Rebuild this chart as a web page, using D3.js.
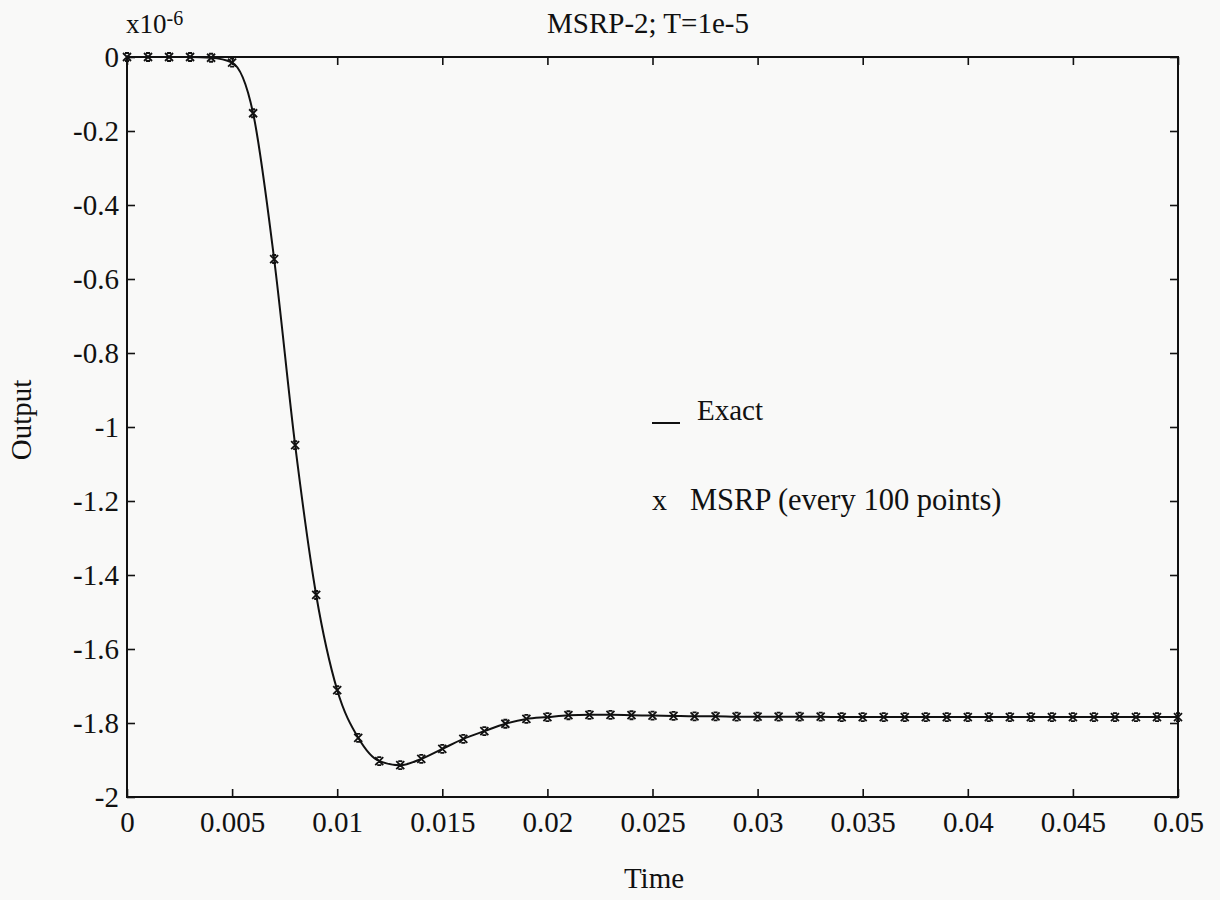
<!DOCTYPE html>
<html>
<head>
<meta charset="utf-8">
<title>MSRP-2; T=1e-5</title>
<script src="https://cdn.jsdelivr.net/npm/d3@7"></script>
<style>
  body { margin: 0; background: #f9f9f8; }
  svg { display: block; }
  text { font-family: "Liberation Serif", "Times New Roman", serif; fill: #111; }
</style>
</head>
<body>
<div id="chart"></div>
<script>
// sample times (s) - MSRP marker every 100 points
const times = [
  0, 0.001, 0.002, 0.003, 0.004, 0.005, 0.006, 0.007, 0.008, 0.009,
  0.010, 0.011, 0.012, 0.013, 0.014, 0.015, 0.016, 0.017, 0.018, 0.019,
  0.020, 0.021, 0.022, 0.023, 0.024, 0.025, 0.026, 0.027, 0.028, 0.029,
  0.030, 0.031, 0.032, 0.033, 0.034, 0.035, 0.036, 0.037, 0.038, 0.039,
  0.040, 0.041, 0.042, 0.043, 0.044, 0.045, 0.046, 0.047, 0.048, 0.049,
  0.050
];
// output in units of 1e-6
const output = [
  0, 0, 0, 0, -0.002, -0.015, -0.152, -0.546, -1.049, -1.454,
  -1.711, -1.840, -1.903, -1.914, -1.897, -1.870, -1.843, -1.822, -1.802, -1.789,
  -1.784, -1.779, -1.778, -1.778, -1.779, -1.780, -1.781, -1.782, -1.782, -1.783,
  -1.783, -1.783, -1.783, -1.783, -1.784, -1.784, -1.784, -1.784, -1.784, -1.784,
  -1.784, -1.784, -1.784, -1.784, -1.784, -1.784, -1.784, -1.784, -1.784, -1.784,
  -1.784
];
const xTicks = [0, 0.005, 0.01, 0.015, 0.02, 0.025, 0.03, 0.035, 0.04, 0.045, 0.05];
const yTicks = [0, -0.2, -0.4, -0.6, -0.8, -1, -1.2, -1.4, -1.6, -1.8, -2];
const legendLabels = ["Exact", "MSRP (every 100 points)"];

const W = 1220, H = 900;
const mLeft = 127, mRight = 1178, mTop = 57, mBottom = 797;

const svg = d3.select("#chart").append("svg")
  .attr("width", W)
  .attr("height", H);

const x = d3.scaleLinear().domain([0, 0.05]).range([mLeft, mRight]);
const y = d3.scaleLinear().domain([-2, 0]).range([mBottom, mTop]);

const fmt = d => d === 0 ? "0" : String(+d.toFixed(4));

// frame
svg.append("rect")
  .attr("x", mLeft).attr("y", mTop)
  .attr("width", mRight - mLeft).attr("height", mBottom - mTop)
  .attr("fill", "none").attr("stroke", "#111").attr("stroke-width", 2);

// inward ticks on all four sides
const tick = 8;
const tickStyle = g => g.call(g => g.select(".domain").remove())
  .call(g => g.selectAll(".tick line").attr("stroke", "#111").attr("stroke-width", 1.6));

svg.append("g")
  .attr("transform", `translate(0,${mBottom})`)
  .call(d3.axisBottom(x).tickValues(xTicks).tickSize(-tick).tickPadding(14).tickFormat(fmt))
  .call(tickStyle)
  .call(g => g.selectAll(".tick text")
    .attr("font-family", "Liberation Serif").attr("font-size", 29).attr("fill", "#111"));

svg.append("g")
  .attr("transform", `translate(0,${mTop})`)
  .call(d3.axisTop(x).tickValues(xTicks).tickSize(-tick).tickFormat(""))
  .call(tickStyle);

svg.append("g")
  .attr("transform", `translate(${mLeft},0)`)
  .call(d3.axisLeft(y).tickValues(yTicks).tickSize(-tick).tickPadding(8).tickFormat(fmt))
  .call(tickStyle)
  .call(g => g.selectAll(".tick text")
    .attr("font-family", "Liberation Serif").attr("font-size", 29).attr("fill", "#111"));

svg.append("g")
  .attr("transform", `translate(${mRight},0)`)
  .call(d3.axisRight(y).tickValues(yTicks).tickSize(-tick).tickFormat(""))
  .call(tickStyle);

// exact response
const pts = times.map((t, i) => [t, output[i]]);
svg.append("path")
  .datum(pts)
  .attr("fill", "none")
  .attr("stroke", "#111")
  .attr("stroke-width", 2)
  .attr("d", d3.line().x(d => x(d[0])).y(d => y(d[1])).curve(d3.curveMonotoneX));

// MSRP markers
const xm = 4;
svg.append("g").selectAll("path")
  .data(pts)
  .join("path")
  .attr("fill", "none")
  .attr("stroke", "#111")
  .attr("stroke-width", 1.8)
  .attr("d", d => {
    const cx = x(d[0]), cy = y(d[1]);
    return `M${cx - xm},${cy - xm}L${cx + xm},${cy + xm}M${cx + xm},${cy - xm}L${cx - xm},${cy + xm}` +
      `M${cx - 2},${cy - xm}L${cx + 2},${cy - xm}M${cx - 2},${cy + xm}L${cx + 2},${cy + xm}`;
  });

// exponent label
const ex = svg.append("text").attr("x", 126).attr("y", 33).attr("font-size", 27);
ex.append("tspan").text("x10");
ex.append("tspan").attr("dy", -8).attr("font-size", 20).text("-6");

// title
svg.append("text")
  .attr("x", 648).attr("y", 33)
  .attr("text-anchor", "middle")
  .attr("font-size", 29)
  .text("MSRP-2; T=1e-5");

// axis labels
svg.append("text")
  .attr("transform", "translate(31,420) rotate(-90)")
  .attr("text-anchor", "middle")
  .attr("font-size", 29)
  .text("Output");

svg.append("text")
  .attr("x", 654).attr("y", 888)
  .attr("text-anchor", "middle")
  .attr("font-size", 29)
  .text("Time");

// legend
svg.append("line")
  .attr("x1", 652).attr("x2", 680)
  .attr("y1", 423).attr("y2", 423)
  .attr("stroke", "#111").attr("stroke-width", 2);
svg.append("text").attr("x", 697).attr("y", 420).attr("font-size", 29).text(legendLabels[0]);
svg.append("text").attr("x", 652).attr("y", 510).attr("font-size", 30).text("x");
svg.append("text").attr("x", 690).attr("y", 510).attr("font-size", 30.5).text(legendLabels[1]);
</script>
</body>
</html>
